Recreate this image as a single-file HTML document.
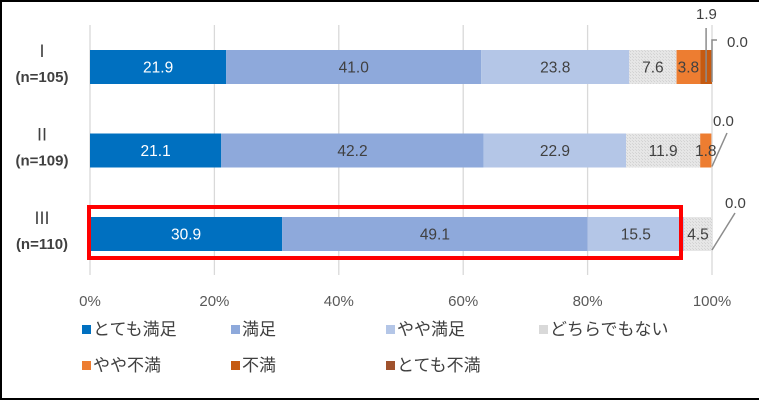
<!DOCTYPE html>
<html><head><meta charset="utf-8"><style>
html,body{margin:0;padding:0;background:#fff;}
#wrap{position:relative;width:759px;height:400px;overflow:hidden;background:#fff;box-sizing:border-box;border-top:2px solid #000;border-left:2px solid #000;border-bottom:2px solid #000;}
svg{position:absolute;left:-2px;top:-2px;}
text{font-family:"Liberation Sans","Noto Sans CJK JP",sans-serif;}
</style></head><body>
<div id="wrap">
<svg id="c" width="759" height="400">
<defs>
<pattern id="dots" width="3" height="3" patternUnits="userSpaceOnUse">
<rect width="3" height="3" fill="#e6e6e6"/><rect width="1" height="1" fill="#d2d2d2"/><rect x="2" y="2" width="1" height="1" fill="#d6d6d6"/>
</pattern>
</defs>
</svg>
</div>
<script>
const categories = ["Ⅰ","Ⅱ","Ⅲ"];
const sampleSizes = ["(n=105)","(n=109)","(n=110)"];
const seriesNames = ["とても満足","満足","やや満足","どちらでもない","やや不満","不満","とても不満"];
const rowI = [21.9,41.0,23.8,7.6,3.8,1.9,0.0];
const rowII = [21.1,42.2,22.9,11.9,1.8,0.0,0.0];
const rowIII = [30.9,49.1,15.5,4.5,0.0,0.0,0.0];
const tickValues = [0,20,40,60,80,100];
const tickLabels = ["0%","20%","40%","60%","80%","100%"];

const rows=[rowI,rowII,rowIII];
const colors=["#0070C0","#8EA9DB","#B4C6E7","url(#dots)","#ED7D31","#C55A11","#A0522D"];
const legendColors=["#0070C0","#8EA9DB","#B4C6E7","#D9D9D9","#ED7D31","#C55A11","#A0522D"];
const svg=document.getElementById('c');
const NS="http://www.w3.org/2000/svg";
const x0=90,x1=712;
const xs=v=>x0+(x1-x0)*v/100;
const rowCenter=i=>67+i*83.5;
const barH=34;
function mk(tag,attrs,parent){const e=document.createElementNS(NS,tag);for(const k in attrs)e.setAttribute(k,attrs[k]);(parent||svg).appendChild(e);return e;}

tickValues.forEach((t,i)=>{
  const g=mk('line',{x1:xs(t),x2:xs(t),y1:25,y2:275,stroke:'#d9d9d9','stroke-width':1.3});
  
  
  const tl=mk('text',{x:xs(t),y:306,'text-anchor':'middle','font-size':15,fill:'#595959'});
  tl.textContent=tickLabels[i];
  
  
});

rows.forEach((vals,r)=>{
  const cy=rowCenter(r);
  let acc=0;
  vals.forEach((v,s)=>{
    const xa=xs(acc),xb=xs(acc+v);
    if(v>0){
      const b=mk('rect',{x:xa,y:cy-barH/2,width:xb-xa,height:barH,fill:colors[s]});
      
      
    }
    if(v>=1.8 && !(r===0 && s===5)){
      const t=mk('text',{x:(xa+xb)/2,y:cy+5.5,'text-anchor':'middle','font-size':15.5,fill:s===0?'#ffffff':'#404040'});
      t.textContent=v.toFixed(1);
      
      
    }
    acc+=v;
  });
  const c=mk('text',{x:42,y:cy-10,'text-anchor':'middle','font-size':17,fill:'#404040','font-family':'"Noto Serif CJK JP",serif'});
  c.textContent=categories[r];
  
  
  const n=mk('text',{x:42,y:cy+15,'text-anchor':'middle','font-size':15,fill:'#404040','font-weight':'bold'});
  n.textContent=sampleSizes[r];
  
  
});

function callout(txt,tx,ty,pts,name){
  const p=mk('polyline',{points:pts,fill:'none',stroke:'#8c8c8c','stroke-width':1.5});
  
  
  const t=mk('text',{x:tx,y:ty,'font-size':15,fill:'#404040'});
  t.textContent=txt;
  
  
}
const e1=xs(rowI.slice(0,5).reduce((a,b)=>a+b,0)+rowI[5]/2);
callout(rowI[5].toFixed(1),696,19,`${e1},${rowCenter(0)+15} ${e1},28`,'callout-row1-fuman');
callout(rowI[6].toFixed(1),727,47,`${xs(100)},${rowCenter(0)+15} ${xs(100)},40 ${xs(100)+5},40`,'callout-row1-totemo-fuman');
callout(rowII[6].toFixed(1),713,126,`${xs(100)},${rowCenter(1)+16} ${xs(100)+15},133`,'callout-row2');
callout(rowIII[6].toFixed(1),725,208,`${xs(100)},${rowCenter(2)+16} ${xs(100)+23},213`,'callout-row3');

const hb=mk('rect',{x:89,y:207,width:592,height:51,fill:'none',stroke:'#ff0000','stroke-width':4});



const legX=[82,231,386,539];
seriesNames.forEach((nm,i)=>{
  const col=i%4,row=Math.floor(i/4);
  const lx=legX[col],ly=row===0?335:371;
  const g=mk('g',{});
  
  
  mk('rect',{x:lx,y:ly-10,width:9,height:9,fill:legendColors[i]},g);
  const t=mk('text',{x:lx+11,y:ly,'font-size':17,fill:'#404040'},g);
  t.textContent=nm;
});
</script>
</body></html>
